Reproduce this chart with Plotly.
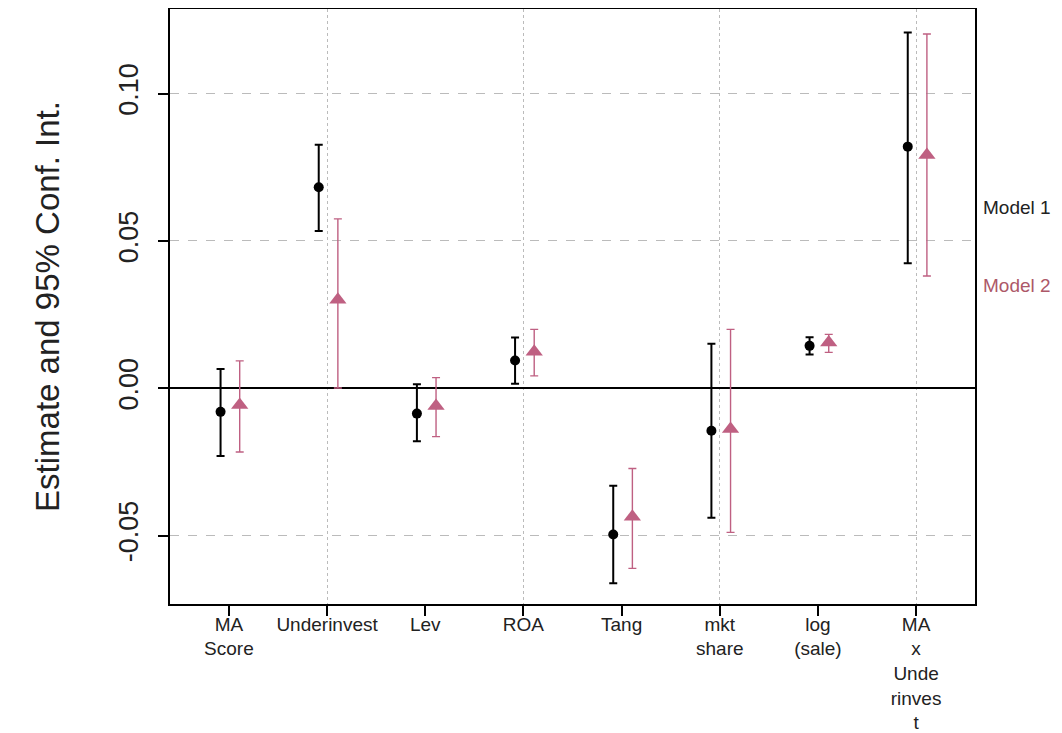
import plotly.graph_objects as go

categories = ["MA<br>Score", "Underinvest", "Lev", "ROA", "Tang", "mkt<br>share", "log<br>(sale)", "MA<br>x<br>Unde<br>rinves<br>t"]
positions = [1, 2, 3, 4, 5, 6, 7, 8]

m1_est = [-0.0080, 0.0682, -0.0086, 0.0094, -0.0496, -0.0144, 0.0144, 0.0820]
m1_lo = [-0.0230, 0.0534, -0.0180, 0.0015, -0.0662, -0.0439, 0.0115, 0.0424]
m1_hi = [0.0065, 0.0826, 0.0014, 0.0172, -0.0331, 0.0151, 0.0173, 0.1207]

m2_est = [-0.0057, 0.0300, -0.0060, 0.0124, -0.0436, -0.0138, 0.0155, 0.0792]
m2_lo = [-0.0216, 0.0001, -0.0164, 0.0042, -0.0611, -0.0489, 0.0122, 0.0381]
m2_hi = [0.0093, 0.0575, 0.0036, 0.0200, -0.0272, 0.0200, 0.0183, 0.1202]

y_ticks = [-0.05, 0.0, 0.05, 0.10]
y_tick_text = ["-0.05", "0.00", "0.05", "0.10"]
grid_x = [2, 4, 6, 8]

legend_labels = ["Model 1", "Model 2"]
legend_y = [0.0612, 0.0348]

off1, off2 = -0.085, 0.11
c1 = "#000000"
c2 = "#BF6082"
c2_text = "#AD5868"

fig = go.Figure()

# invisible trace to carry the vertical grid axis
fig.add_trace(go.Scatter(x=grid_x, y=[0] * len(grid_x), xaxis="x2", mode="markers",
                         marker=dict(opacity=0), hoverinfo="skip", showlegend=False))

fig.add_trace(go.Scatter(
    x=[p + off1 for p in positions], y=m1_est, mode="markers",
    marker=dict(symbol="circle", size=10, color=c1),
    error_y=dict(type="data", symmetric=False,
                 array=[h - e for h, e in zip(m1_hi, m1_est)],
                 arrayminus=[e - l for e, l in zip(m1_est, m1_lo)],
                 color=c1, thickness=2, width=4),
    showlegend=False))

fig.add_trace(go.Scatter(
    x=[p + off2 for p in positions], y=m2_est, mode="markers",
    marker=dict(symbol="triangle-up", size=15, color=c2),
    error_y=dict(type="data", symmetric=False,
                 array=[h - e for h, e in zip(m2_hi, m2_est)],
                 arrayminus=[e - l for e, l in zip(m2_est, m2_lo)],
                 color=c2, thickness=1.4, width=4),
    showlegend=False))

font_family = "Liberation Sans, Arial, sans-serif"

fig.update_layout(
    width=1054, height=725,
    margin=dict(l=162, r=87, t=1, b=129, autoexpand=False),
    paper_bgcolor="white", plot_bgcolor="white",
    font=dict(family=font_family, color="#222222"),
    xaxis=dict(range=[0.4, 8.6], tickmode="array", tickvals=positions, ticktext=categories,
               ticks="outside", ticklen=10, tickwidth=1.5, tickcolor="black",
               ticklabelstandoff=-8,
               showgrid=False, zeroline=False, automargin=False,
               showline=True, linecolor="black", linewidth=1.5, mirror=True,
               tickfont=dict(size=19, color="#222222")),
    xaxis2=dict(range=[0.4, 8.6], overlaying="x", tickmode="array", tickvals=grid_x,
                showticklabels=False, ticks="", showgrid=True, gridcolor="#BBBBBB",
                griddash="dot", gridwidth=1, zeroline=False, showline=False, automargin=False),
    yaxis=dict(range=[-0.0732, 0.1287], tickmode="array", tickvals=y_ticks, ticktext=y_tick_text,
               tickangle=-90, ticks="outside", ticklen=10, tickwidth=1.5, tickcolor="black",
               ticklabelstandoff=9, automargin=False,
               showgrid=True, gridcolor="#BBBBBB", griddash="dash", gridwidth=1,
               zeroline=True, zerolinecolor="black", zerolinewidth=1.5,
               showline=True, linecolor="black", linewidth=1.5, mirror=True,
               tickfont=dict(size=27, color="#222222"),
               title=dict(text="Estimate and 95% Conf. Int.", font=dict(size=33, color="#222222"),
                          standoff=45)),
    annotations=[
        dict(text=legend_labels[0], xref="paper", yref="y", x=1.008, y=legend_y[0],
             xanchor="left", yanchor="middle", showarrow=False,
             font=dict(size=19, color="#222222", family=font_family)),
        dict(text=legend_labels[1], xref="paper", yref="y", x=1.008, y=legend_y[1],
             xanchor="left", yanchor="middle", showarrow=False,
             font=dict(size=19, color=c2_text, family=font_family)),
    ],
)

fig.write_html("out.html")
